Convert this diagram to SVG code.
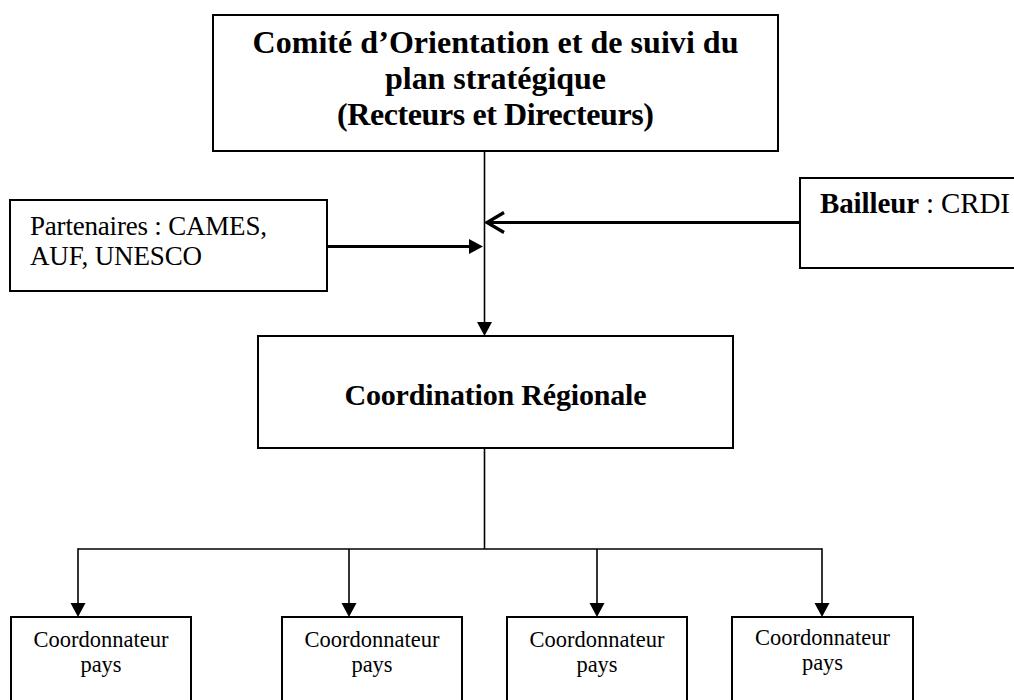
<svg xmlns="http://www.w3.org/2000/svg" width="1014" height="700" viewBox="0 0 1014 700">
<style>
  .box { fill: #ffffff; stroke: #000000; stroke-width: 2; }
  .t { font-family: "Liberation Serif", "Times New Roman", serif; fill: #000000; }
  .b { font-weight: bold; }
  .line { stroke: #000000; stroke-width: 1.6; fill: none; }
  .thick { stroke: #000000; stroke-width: 3.2; fill: none; }
</style>
<defs>
  <marker id="tri" markerUnits="userSpaceOnUse" markerWidth="15" markerHeight="15" viewBox="0 0 15 15" refX="6" refY="7.5" orient="auto" overflow="visible">
    <path d="M0,0 L14,7.5 L0,15 z" fill="#000000"/>
  </marker>
  <marker id="chev" markerUnits="userSpaceOnUse" markerWidth="20" markerHeight="22" viewBox="0 0 20 22" refX="18" refY="11" orient="auto" overflow="visible">
    <path d="M1,1 L18,11 L1,21" fill="none" stroke="#000000" stroke-width="3.2" stroke-linejoin="miter"/>
  </marker>
</defs>
<rect width="1014" height="700" fill="#ffffff"/>

<g id="connectors">
  <path class="line" d="M484.5,151 L484.5,328" marker-end="url(#tri)"/>
  <path class="thick" d="M327,246.5 L475,246.5" marker-end="url(#tri)"/>
  <path class="thick" d="M800,222.5 L487,222.5" marker-end="url(#chev)"/>
  <path class="line" d="M484.5,448 L484.5,549"/>
  <path class="line" d="M78,549 L822,549"/>
  <path class="line" d="M78,548.2 L78,609" marker-end="url(#tri)"/>
  <path class="line" d="M349,549 L349,609" marker-end="url(#tri)"/>
  <path class="line" d="M597,549 L597,609" marker-end="url(#tri)"/>
  <path class="line" d="M822,548.2 L822,609" marker-end="url(#tri)"/>
</g>

<g id="comite">
  <rect class="box" x="213" y="15" width="565" height="136"/>
  <text class="t b" x="495.5" y="53" font-size="32" text-anchor="middle" textLength="486">Comité d’Orientation et de suivi du</text>
  <text class="t b" x="495.5" y="89" font-size="32" text-anchor="middle" textLength="221">plan stratégique</text>
  <text class="t b" x="495.5" y="125" font-size="32" text-anchor="middle" textLength="317">(Recteurs et Directeurs)</text>
</g>

<g id="partenaires">
  <rect class="box" x="10" y="200" width="317" height="91"/>
  <text class="t" x="30" y="235" font-size="27" textLength="237">Partenaires : CAMES,</text>
  <text class="t" x="30" y="265" font-size="27" textLength="172">AUF, UNESCO</text>
</g>

<g id="bailleur">
  <rect class="box" x="800" y="178" width="230" height="90"/>
  <text class="t" x="820" y="213" font-size="29" textLength="190"><tspan class="b">Bailleur</tspan> : CRDI</text>
</g>

<g id="coordination">
  <rect class="box" x="258" y="336" width="475" height="112"/>
  <text class="t b" x="495.5" y="405" font-size="30" text-anchor="middle" textLength="302">Coordination Régionale</text>
</g>

<g id="pays1">
  <rect class="box" x="11" y="617" width="180" height="100"/>
  <text class="t" x="101" y="647" font-size="22.5" text-anchor="middle" textLength="135">Coordonnateur</text>
  <text class="t" x="101" y="672" font-size="22.5" text-anchor="middle">pays</text>
</g>
<g id="pays2">
  <rect class="box" x="282" y="617" width="180" height="100"/>
  <text class="t" x="372" y="647" font-size="22.5" text-anchor="middle" textLength="135">Coordonnateur</text>
  <text class="t" x="372" y="672" font-size="22.5" text-anchor="middle">pays</text>
</g>
<g id="pays3">
  <rect class="box" x="507" y="617" width="180" height="100"/>
  <text class="t" x="597" y="647" font-size="22.5" text-anchor="middle" textLength="135">Coordonnateur</text>
  <text class="t" x="597" y="672" font-size="22.5" text-anchor="middle">pays</text>
</g>
<g id="pays4">
  <rect class="box" x="732" y="617" width="181" height="100"/>
  <text class="t" x="822.5" y="645" font-size="22.5" text-anchor="middle" textLength="135">Coordonnateur</text>
  <text class="t" x="822.5" y="670" font-size="22.5" text-anchor="middle">pays</text>
</g>
</svg>
